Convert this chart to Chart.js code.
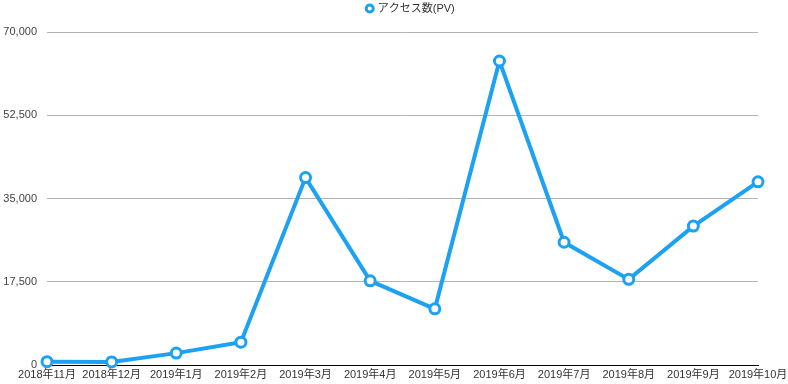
<!DOCTYPE html>
<html>
<head>
<meta charset="utf-8">
<script src="https://cdn.jsdelivr.net/npm/chart.js@4"></script>
<style>
  html, body { margin: 0; padding: 0; background: #fff; }
  #wrap { width: 788px; height: 384px; }
</style>
</head>
<body>
<div id="wrap"><canvas id="chart"></canvas></div>
<script>
const months = ['2018年11月', '2018年12月', '2019年1月', '2019年2月', '2019年3月', '2019年4月',
  '2019年5月', '2019年6月', '2019年7月', '2019年8月', '2019年9月', '2019年10月'];
const pageViews = [700, 650, 2500, 4800, 39400, 17700, 11800, 63900, 25800, 18000, 29200, 38500];
const yTicks = [0, 17500, 35000, 52500, 70000];

const blue = 'rgb(29, 161, 242)';
const fontFamily = '"Liberation Sans", "Noto Sans CJK JP", sans-serif';

// legend sits high and a bit right of centre, plot starts at y=32
const legendGap = {
  id: 'legendGap',
  beforeUpdate(chart) {
    const legend = chart.legend;
    if (!legend || legend._gapPatched) return;
    const fit = legend.fit;
    const draw = legend.draw;
    legend.fit = function () {
      fit.call(this);
      this.height = 32;
    };
    legend.draw = function (...args) {
      const ctx = this.ctx;
      ctx.save();
      ctx.translate(17, 0);
      draw.apply(this, args);
      ctx.restore();
    };
    legend._gapPatched = true;
  }
};

new Chart(document.getElementById('chart'), {
  type: 'line',
  data: {
    labels: months,
    datasets: [{
      label: 'アクセス数(PV)',
      data: pageViews,
      borderColor: blue,
      backgroundColor: '#fff',
      borderWidth: 4,
      pointRadius: 5,
      pointBorderWidth: 3,
      pointBackgroundColor: '#fff',
      pointBorderColor: blue,
      tension: 0,
      clip: false
    }]
  },
  options: {
    responsive: true,
    maintainAspectRatio: false,
    animation: false,
    layout: { padding: 0 },
    plugins: {
      legend: {
        labels: {
          usePointStyle: true,
          pointStyle: 'circle',
          boxWidth: 5,
          boxHeight: 5,
          color: '#333',
          padding: 3,
          font: { family: fontFamily, size: 11 }
        }
      },
      tooltip: { enabled: false }
    },
    scales: {
      x: {
        offset: false,
        grid: { display: false, drawTicks: false },
        border: { color: '#000', width: 1 },
        ticks: {
          color: '#333',
          padding: 4,
          maxRotation: 0,
          autoSkip: false,
          font: { family: fontFamily, size: 11, lineHeight: 1 }
        },
        afterFit: s => { s.height = 19; s.paddingRight = 30; }
      },
      y: {
        min: 0,
        max: 70000,
        afterBuildTicks: s => { s.ticks = yTicks.map(v => ({ value: v })); },
        grid: {
          color: ctx => ctx.tick && ctx.tick.value === 0 ? '#000' : '#b3b3b3',
          drawTicks: false
        },
        border: { display: false },
        ticks: {
          color: '#444',
          padding: 10,
          font: { family: fontFamily, size: 11 },
          callback: v => v.toLocaleString('en-US')
        },
        afterFit: s => { s.width = 47; }
      }
    }
  },
  plugins: [legendGap]
});
</script>
</body>
</html>
